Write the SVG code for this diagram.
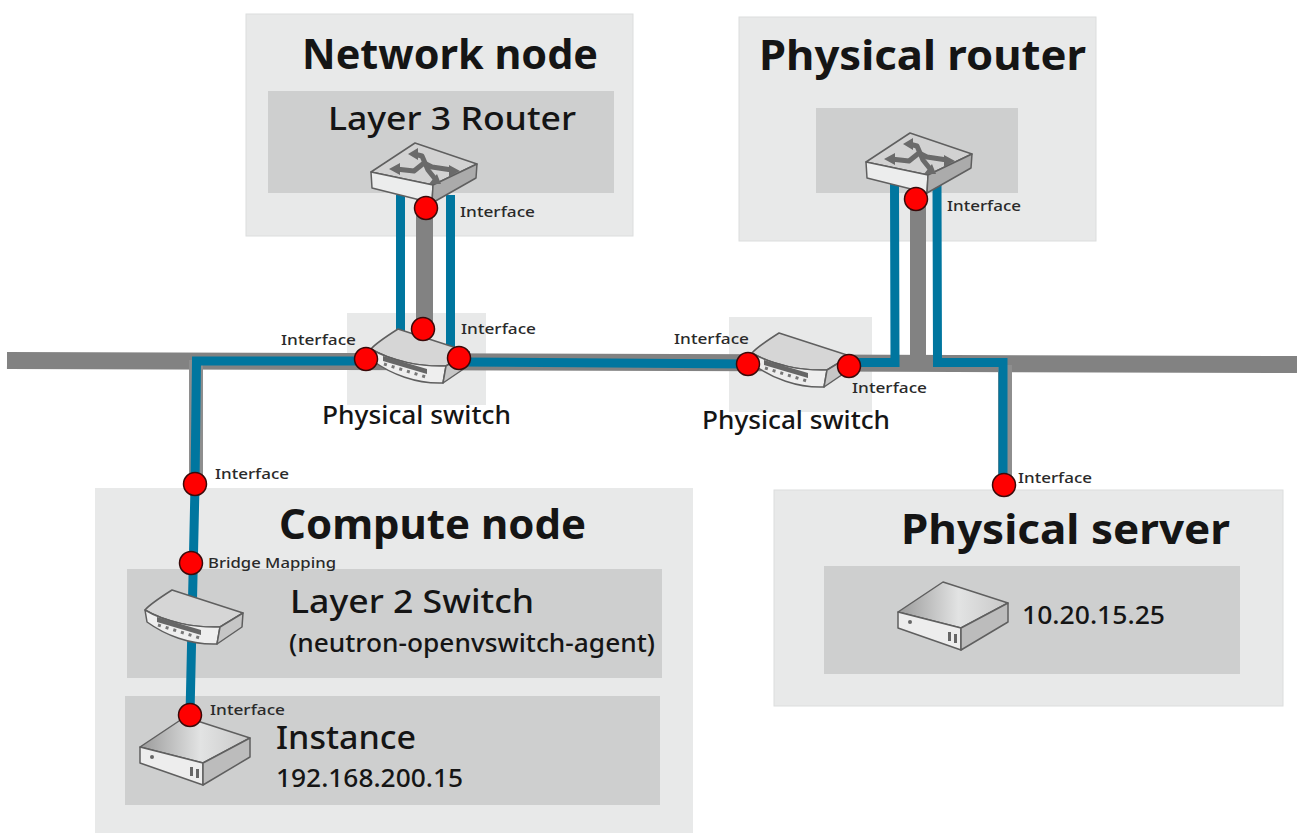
<svg xmlns="http://www.w3.org/2000/svg" width="1297" height="833" viewBox="0 0 1297 833">
<style>
.outer{fill:#e8e9e9}
.edge{stroke:#dcdddd;stroke-width:1}
.inner{fill:#cecfcf}
.gray{fill:none;stroke:#828282;stroke-linejoin:miter}
.soft{stroke:#8e8e8e}
.blue{fill:none;stroke:#00769f;stroke-width:9}
.dot{fill:#f00;stroke:#3a0a0a;stroke-width:1.5}
text{font-family:"Noto Sans","Liberation Sans",sans-serif;fill:#151515}
.t{font-size:41px;font-weight:700}
.m{font-size:33px;font-weight:500}
.n{font-size:25px;font-weight:500}
.s{font-size:15px;fill:#2a2a2a;font-weight:500}
.ol{stroke:#5f5f5f;stroke-width:1.5;stroke-linejoin:round}
.arrow{fill:none;stroke:#6a6a6a;stroke-width:5;stroke-linejoin:round}
.head{fill:#6a6a6a}
</style>
<defs>
<linearGradient id="top" x1="0" x2="1" y1="0" y2="0"><stop offset="0" stop-color="#9a9a9a"/><stop offset=".55" stop-color="#e2e3e3"/><stop offset="1" stop-color="#c8c8c8"/></linearGradient>
<g id="router">
<path class="ol" d="M371 172L415 143L477 164L433 185Z" fill="#d2d2d2"/>
<path class="ol" d="M371 172L433 185L432 203L372 188Z" fill="#eceded"/>
<path class="ol" d="M433 185L477 164L476 178L432 203Z" fill="#ababab"/>
<path class="arrow" d="M414 154L422 156L428 170L436 180"/>
<path class="arrow" d="M396 169L414 171L424 163L432 167L452 170"/>
<path class="head" d="M408 154L418 148V160ZM389 169L400 163V175ZM460 171L449 165V177ZM441 184L429 184L437 174Z"/>
</g>
<g id="switch">
<path class="ol" d="M145 610Q150 604 172 590L243 613L220 627C195 628 165 622 145 610Z" fill="#d6d6d6"/>
<path class="ol" d="M145 610C165 622 195 628 220 627L217 644C190 645 165 635 147 622Z" fill="#eeeeee"/>
<path class="ol" d="M220 627L243 613L242 627L217 644Z" fill="#c6c6c6"/>
<path d="M157 617L201 630L201 635L157 622Z" fill="#666"/>
<path d="M158 625L200 638" fill="none" stroke="#777" stroke-width="3" stroke-dasharray="3 5"/>
</g>
<g id="server">
<path class="ol" d="M140 747L185 717L250 738L203 763Z" fill="url(#top)"/>
<path class="ol" d="M140 747L203 763L203 785L140 763Z" fill="#ededed"/>
<path class="ol" d="M203 763L250 738L250 757L203 785Z" fill="#bcbcbc"/>
<circle cx="152" cy="757" r="2" fill="#666"/>
<path d="M190 767v9h3v-9zM196 769v9h3v-9z" fill="#666"/>
</g>
</defs>
<g id="network-node"><rect class="outer edge" x="246" y="14" width="387" height="222"/><rect class="inner" x="268" y="91" width="346" height="102"/></g>
<g id="physical-router"><rect class="outer edge" x="739" y="17" width="357" height="224"/><rect class="inner" x="816" y="108" width="202" height="85"/></g>
<g id="compute-node"><rect class="outer" x="95" y="488" width="598" height="345"/><rect class="inner" x="127" y="569" width="535" height="109"/><rect class="inner" x="125" y="696" width="535" height="109"/></g>
<g id="physical-server"><rect class="outer edge" x="774" y="490" width="509" height="216"/><rect class="inner" x="824" y="566" width="416" height="108"/></g>
<g id="switch-bg-1"><rect class="outer" x="347" y="313" width="139" height="92"/></g>
<g id="switch-bg-2"><rect class="outer" x="729" y="317" width="143" height="95"/></g>
<g id="connectors">
<path class="gray" stroke-width="17" d="M7 360.500L1297 364.500"/>
<path class="gray" stroke-width="17" d="M424.500 200V325"/>
<path class="gray" stroke-width="16" d="M918 190V360"/>
<path class="gray soft" stroke-width="14" d="M1005 365V480"/>
<path class="gray soft" stroke-width="14" d="M196 360V480"/>
<path class="blue" d="M400.500 195V335"/>
<path class="blue" d="M450.500 195V350"/>
<path class="blue" d="M894.500 180L895 362.500H840"/>
<path class="blue" d="M937 185L937.500 362.500H1003V485"/>
<path class="blue" d="M750 364L460 362"/>
<path class="blue" d="M366 361H196.500L195 485L190 715"/>
</g>
<g id="icons">
<use href="#router"/>
<use href="#router" x="495" y="-10"/>
<use href="#switch" x="226" y="-261"/>
<use href="#switch" x="607" y="-257"/>
<use href="#switch"/>
<use href="#server"/>
<use href="#server" x="758" y="-135"/>
</g>
<g id="interfaces">
<circle class="dot" cx="426" cy="208" r="11.500"/>
<circle class="dot" cx="423" cy="329" r="11.500"/>
<circle class="dot" cx="366" cy="359" r="11.500"/>
<circle class="dot" cx="459" cy="358" r="11.500"/>
<circle class="dot" cx="748" cy="364" r="11.500"/>
<circle class="dot" cx="849" cy="366" r="11.500"/>
<circle class="dot" cx="916" cy="199" r="11.500"/>
<circle class="dot" cx="195" cy="484" r="11.500"/>
<circle class="dot" cx="191" cy="563" r="11.500"/>
<circle class="dot" cx="190" cy="715" r="11.500"/>
<circle class="dot" cx="1004" cy="485" r="11.500"/>
</g>
<g id="labels">
<text class="t" x="302" y="69" textLength="296" lengthAdjust="spacingAndGlyphs">Network node</text>
<text class="t" x="759" y="70" textLength="327" lengthAdjust="spacingAndGlyphs">Physical router</text>
<text class="t" x="279" y="539" textLength="307" lengthAdjust="spacingAndGlyphs">Compute node</text>
<text class="t" x="901" y="544" textLength="329" lengthAdjust="spacingAndGlyphs">Physical server</text>
<text class="m" x="328" y="130" textLength="248" lengthAdjust="spacingAndGlyphs">Layer 3 Router</text>
<text class="m" x="290" y="613" textLength="244" lengthAdjust="spacingAndGlyphs">Layer 2 Switch</text>
<text class="m" x="276" y="749" textLength="140" lengthAdjust="spacingAndGlyphs">Instance</text>
<text class="n" x="322" y="424" textLength="189" lengthAdjust="spacingAndGlyphs">Physical switch</text>
<text class="n" x="702" y="429" textLength="188" lengthAdjust="spacingAndGlyphs">Physical switch</text>
<text class="n" x="289" y="652" textLength="366" lengthAdjust="spacingAndGlyphs">(neutron-openvswitch-agent)</text>
<text class="n" x="276" y="787" textLength="187" lengthAdjust="spacingAndGlyphs">192.168.200.15</text>
<text class="n" x="1022" y="624" textLength="143" lengthAdjust="spacingAndGlyphs">10.20.15.25</text>
<text class="s" x="460" y="217" textLength="75" lengthAdjust="spacingAndGlyphs">Interface</text>
<text class="s" x="281" y="345" textLength="75" lengthAdjust="spacingAndGlyphs">Interface</text>
<text class="s" x="461" y="334" textLength="75" lengthAdjust="spacingAndGlyphs">Interface</text>
<text class="s" x="674" y="344" textLength="75" lengthAdjust="spacingAndGlyphs">Interface</text>
<text class="s" x="852" y="393" textLength="75" lengthAdjust="spacingAndGlyphs">Interface</text>
<text class="s" x="947" y="211" textLength="74" lengthAdjust="spacingAndGlyphs">Interface</text>
<text class="s" x="215" y="479" textLength="74" lengthAdjust="spacingAndGlyphs">Interface</text>
<text class="s" x="1018" y="483" textLength="74" lengthAdjust="spacingAndGlyphs">Interface</text>
<text class="s" x="210" y="715" textLength="75" lengthAdjust="spacingAndGlyphs">Interface</text>
<text class="s" x="208" y="568" textLength="128" lengthAdjust="spacingAndGlyphs">Bridge Mapping</text>
</g>
</svg>
